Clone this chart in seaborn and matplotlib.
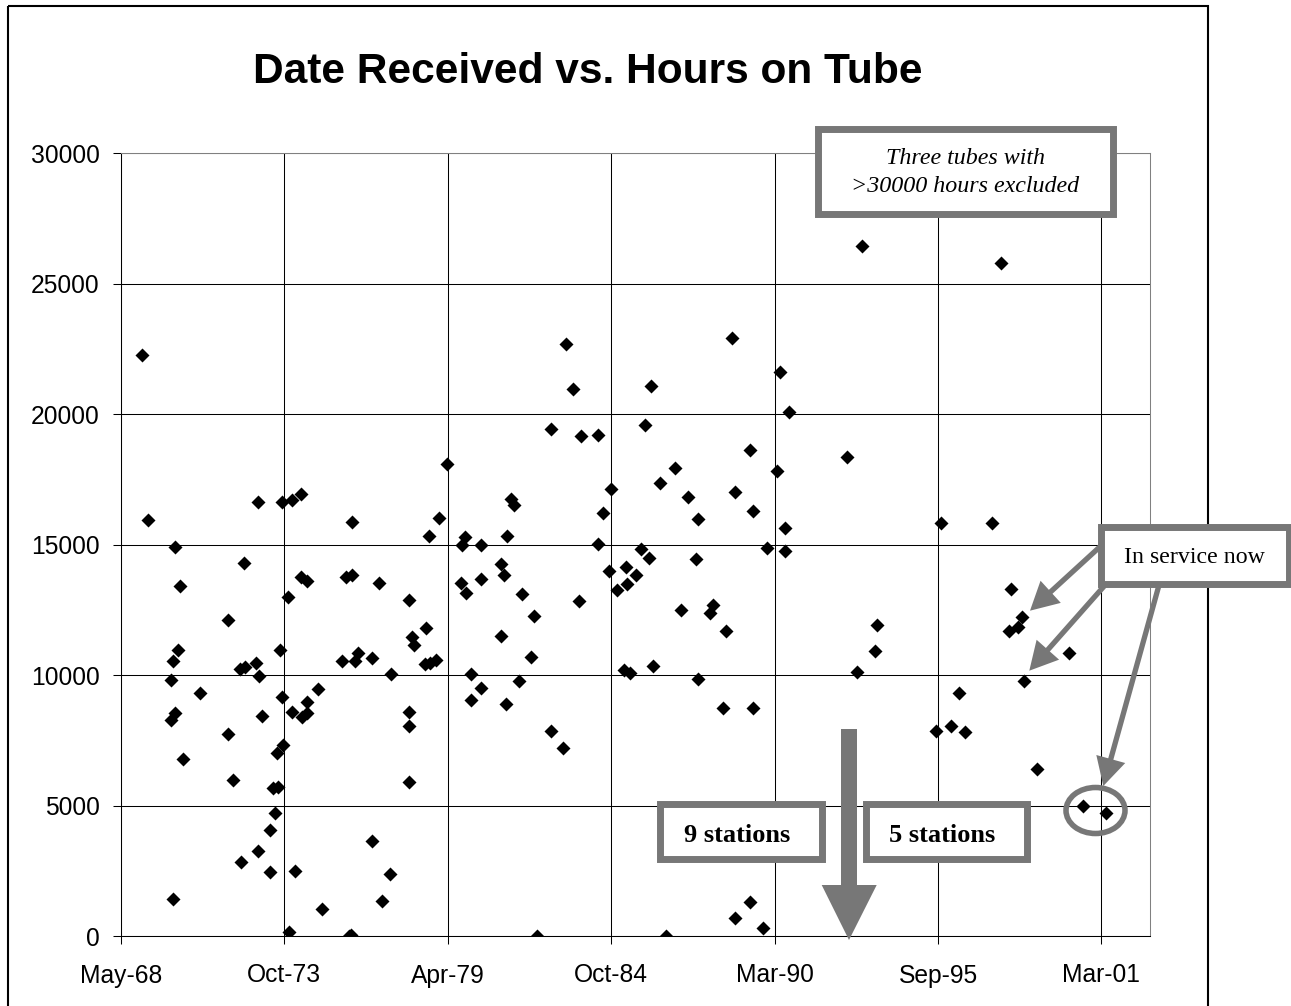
import matplotlib
matplotlib.use("Agg")
import matplotlib.pyplot as plt
from matplotlib.patches import Rectangle, Polygon, Ellipse
from matplotlib.lines import Line2D
from matplotlib.transforms import Affine2D
import numpy as np
import pandas as pd
import seaborn as sns

# ---------------- data ----------------
dates_received = [
    "1969-01-19", "1969-04-02", "1970-02-28", "1970-04-28", "1972-06-21", "1972-12-05",
    "1973-09-28", "1974-01-27", "1974-05-20", "1976-01-27", "1973-12-06", "1974-05-16",
    "1974-07-31", "1975-11-18", "1976-02-02", "1971-12-03", "1970-04-02", "1970-01-23",
    "1970-01-05", "1970-12-21", "1970-02-28", "1970-01-05", "1970-06-03", "1970-01-27",
    "1972-04-27", "1972-06-24", "1972-11-06", "1972-12-13", "1973-08-30", "1973-09-24",
    "1973-01-23", "1971-12-03", "1972-01-27", "1974-01-23", "1974-05-23", "1974-07-31",
    "1974-07-24", "1974-12-06", "1973-10-09", "1973-07-24", "1973-06-03", "1973-07-31",
    "1973-06-25", "1973-05-05", "1972-12-05", "1972-05-04", "1973-05-05", "1974-02-28",
    "1973-12-14", "1975-01-30", "1975-12-28", "1976-01-12", "1975-09-24", "1976-03-07",
    "1976-04-05", "1976-10-04", "1976-10-04",
    "1983-04-05", "1983-06-24", "1982-10-01", "1983-10-04", "1984-04-22", "1979-04-09",
    "1984-10-03", "1981-05-22", "1981-06-28", "1978-12-27", "1978-09-02", "1981-04-05",
    "1979-11-06", "1979-10-01", "1980-05-30", "1984-07-01", "1984-04-26", "1976-12-27",
    "1977-12-27", "1979-09-23", "1979-11-21", "1980-05-22", "1981-01-30", "1981-03-03",
    "1981-10-08", "1982-02-27", "1983-09-02", "1984-09-02", "1985-04-09", "1985-08-03",
    "1984-12-16", "1985-04-20", "1977-05-22", "1978-01-30", "1978-03-03", "1978-07-27",
    "1978-07-12", "1978-09-13", "1978-11-21", "1977-12-27", "1977-12-27", "1977-12-27",
    "1977-05-08", "1977-01-30", "1980-01-26", "1980-05-30", "1980-01-26", "1981-01-30",
    "1982-01-27", "1981-09-02", "1981-04-01", "1982-10-01", "1983-02-27", "1982-04-05",
    "1985-03-07", "1985-05-26",
    "1993-02-24", "1988-10-26", "1990-05-30", "1986-01-30", "1990-09-23", "1985-11-25",
    "1989-05-26", "1992-09-04", "1986-11-25", "1986-05-30", "1990-04-27", "1987-04-27",
    "1988-11-27", "1987-09-05", "1989-07-02", "1990-07-27", "1989-12-27", "1990-08-03",
    "1987-08-03", "1985-10-08", "1986-01-04", "1987-02-06", "1988-03-03", "1988-01-23",
    "1988-08-07", "1986-03-03", "1987-09-05", "1988-07-02", "1989-07-02", "1993-09-02",
    "1993-08-08", "1993-01-01", "1989-05-26", "1988-12-02", "1989-11-04", "1986-08-07",
    "1997-10-31", "1995-10-27", "1997-07-06", "1998-02-21", "1998-07-06", "1998-05-27",
    "1998-02-03", "2000-02-10", "1998-08-04", "1996-05-30", "1995-08-23", "1996-02-21",
    "1996-08-11", "1999-01-08", "2000-07-23", "2001-05-09",
]
hours_on_tube = [
    22250, 15950, 14900, 13430, 14300, 16650,
    16650, 16700, 16950, 15850, 13000, 13750,
    13600, 13750, 13850, 12100, 10950, 10550,
    9800, 9300, 8550, 8280, 6800, 1400,
    10230, 10300, 10470, 9960, 10950, 9150,
    8450, 7750, 5980, 8600, 8400, 8980,
    8560, 9450, 7320, 7030, 5660, 5720,
    4730, 4060, 3270, 2850, 2440, 2490,
    150, 1030, 0, 30, 10550, 10540,
    10830, 10670, 3640,
    22700, 20950, 19450, 19150, 19200, 18100,
    17150, 16750, 16520, 16030, 15350, 15350,
    15300, 15000, 14990, 16230, 15020, 13520,
    12880, 13540, 13130, 13670, 14250, 13840,
    13110, 12270, 12840, 13990, 14160, 13840,
    13260, 13480, 10030, 11470, 11150, 11800,
    10410, 10450, 10580, 8570, 8050, 5920,
    2380, 1340, 10030, 9500, 9050, 11490,
    10710, 9770, 8880, 7860, 7190, 0,
    10200, 10090,
    26450, 22930, 21600, 21100, 20070, 19590,
    18630, 18370, 17940, 17380, 17840, 16840,
    17010, 15970, 16290, 15630, 14880, 14760,
    14450, 14820, 14500, 12500, 12690, 12370,
    11700, 10350, 9850, 8750, 8750, 11920,
    10910, 10130, 1290, 680, 320, 0,
    25780, 15820, 15820, 13290, 12220, 11860,
    11700, 10860, 9770, 9300, 7860, 8050,
    7830, 6390, 5000, 4700,
]
x_axis_start = "1968-05-02"
x_axis_end = "2002-10-21"
x_tick_dates = ["1968-05-02", "1973-10-23", "1979-04-15", "1984-10-05",
                "1990-03-28", "1995-09-18", "2001-03-10"]
x_tick_labels = ["May-68", "Oct-73", "Apr-79", "Oct-84", "Mar-90", "Sep-95", "Mar-01"]
y_ticks = [0, 5000, 10000, 15000, 20000, 25000, 30000]
y_tick_labels = ["0", "5000", "10000", "15000", "20000", "25000", "30000"]

title_text = "Date Received vs. Hours on Tube"
note_lines = ["Three tubes with", ">30000 hours excluded"]
left_label = "9 stations"
right_label = "5 stations"
service_label = "In service now"

# ---------------- figure ----------------
W, H = 1291, 1006
sns.set_style("white")
plt.rcParams["font.family"] = ["Liberation Sans", "DejaVu Sans"]
plt.rcParams["text.color"] = "black"

GRAY = "#777777"
fig = plt.figure(figsize=(W / 100, H / 100), dpi=100)
fig.patch.set_facecolor("white")
# pixel coordinate transform (y downward)
px = Affine2D().scale(1 / W, -1 / H).translate(0, 1) + fig.transFigure

L, R, T, B = 121, 1149.7, 153.3, 936
ax = fig.add_axes([L / W, 1 - B / H, (R - L) / W, (B - T) / H])

df = pd.DataFrame({"date": pd.to_datetime(dates_received), "hours": hours_on_tube})
sns.scatterplot(data=df, x="date", y="hours", marker="D", color="black",
                s=51, linewidth=0, ax=ax, zorder=3, legend=False)

ax.set_xlim(pd.Timestamp(x_axis_start), pd.Timestamp(x_axis_end))
ax.set_ylim(y_ticks[0], y_ticks[-1])
ax.set_xticks(pd.to_datetime(x_tick_dates))
ax.set_xticklabels(x_tick_labels)
ax.set_yticks(y_ticks)
ax.set_yticklabels(y_tick_labels)
ax.set_xlabel("")
ax.set_ylabel("")
ax.grid(True, color="black", linewidth=0.75)
ax.set_axisbelow(True)
for side in ["left", "bottom"]:
    ax.spines[side].set_color("black")
    ax.spines[side].set_linewidth(0.75)
for side in ["top", "right"]:
    ax.spines[side].set_color("#808080")
    ax.spines[side].set_linewidth(0.75)
ax.tick_params(axis="both", which="major", direction="out", length=5.8, width=0.75,
               color="black", labelsize=17.7, left=True, bottom=True, labelcolor="black")
ax.tick_params(axis="y", pad=9.5)
ax.tick_params(axis="x", pad=14)

# outer chart border
fig.add_artist(Rectangle((8.3, 5.7), 1200, 1020, fill=False, edgecolor="black",
                         linewidth=1.5, transform=px, zorder=1))

# title
fig.text(588, 83, title_text, transform=px, ha="center", va="baseline",
         fontsize=30.6, fontweight="bold", color="black")


def box(x0, y0, x1, y1):
    fig.add_artist(Rectangle((x0 + 3.5, y0 + 3.5), x1 - x0 - 7, y1 - y0 - 7,
                             facecolor="white", edgecolor=GRAY, linewidth=5.0,
                             transform=px, zorder=5))


def arrow(x0, y0, x1, y1, head_len=28, head_w=30, lw_px=5.3):
    dx, dy = x1 - x0, y1 - y0
    ln = np.hypot(dx, dy)
    ux, uy = dx / ln, dy / ln
    bx, by = x1 - ux * head_len, y1 - uy * head_len
    pxp, pyp = -uy, ux
    fig.add_artist(Line2D([x0, bx + ux * 2], [y0, by + uy * 2], color=GRAY,
                          linewidth=lw_px * 0.72, transform=px, zorder=4,
                          solid_capstyle="butt"))
    fig.add_artist(Polygon([(x1, y1), (bx + pxp * head_w / 2, by + pyp * head_w / 2),
                            (bx - pxp * head_w / 2, by - pyp * head_w / 2)],
                           closed=True, facecolor=GRAY, edgecolor="none",
                           transform=px, zorder=4))


# excluded note
box(814, 125, 1116, 217)
fig.text(965, 164, note_lines[0], transform=px, ha="center", va="baseline",
         fontsize=17.3, fontstyle="italic", family=["Liberation Serif"],
         color="black", zorder=6)
fig.text(965, 191.7, note_lines[1], transform=px, ha="center", va="baseline",
         fontsize=17.3, fontstyle="italic", family=["Liberation Serif"],
         color="black", zorder=6)

# big downward arrow
fig.add_artist(Polygon([(841, 729), (857, 729), (857, 885), (876.7, 885), (849, 940),
                        (821.7, 885), (841, 885)], closed=True, facecolor=GRAY,
                       edgecolor="none", transform=px, zorder=4))

# station boxes
box(656.7, 800.7, 825, 862.3)
fig.text(737, 842.3, left_label, transform=px, ha="center", va="baseline",
         fontsize=19, fontweight="bold", family=["Liberation Serif"],
         color="black", zorder=6)
box(862.3, 801, 1030, 862.3)
fig.text(942.5, 841.7, right_label, transform=px, ha="center", va="baseline",
         fontsize=19, fontweight="bold", family=["Liberation Serif"],
         color="black", zorder=6)

# in service arrows + ellipse
arrow(1100, 546.7, 1030, 610.7)
arrow(1106, 584, 1029.3, 670.7)
arrow(1159.3, 584, 1103.3, 786)
fig.add_artist(Ellipse((1095.5, 810.5), 59, 46, fill=False, edgecolor=GRAY,
                       linewidth=4.0, transform=px, zorder=4))
box(1097.3, 524, 1292, 587.3)
fig.text(1194.3, 562.7, service_label, transform=px, ha="center", va="baseline",
         fontsize=17.2, family=["Liberation Serif"], color="black", zorder=6)

fig.savefig("out.png", dpi=100)
